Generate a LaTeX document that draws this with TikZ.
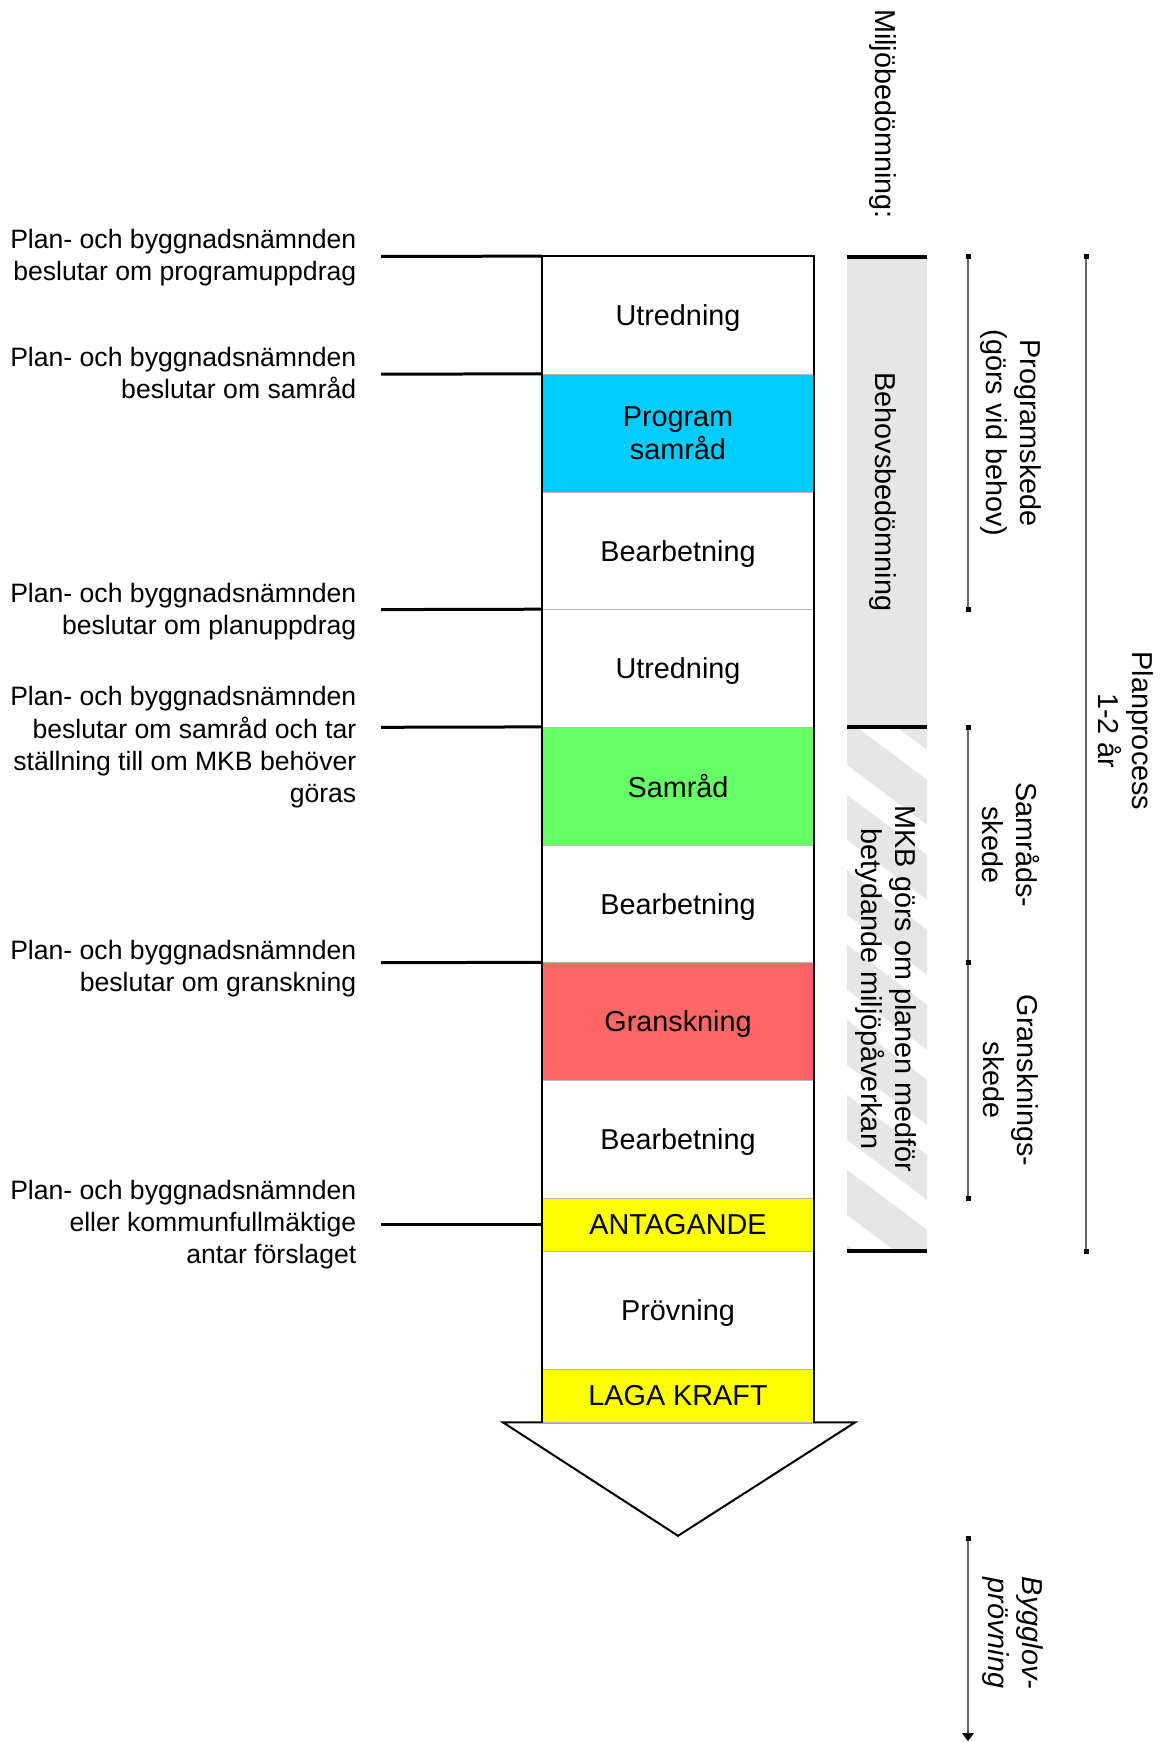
\documentclass[tikz,border=0pt]{standalone}
\usepackage{fontspec}
\setmainfont{Liberation Sans}
\usetikzlibrary{arrows.meta}

\definecolor{progblue}{RGB}{0,204,255}
\definecolor{samgreen}{RGB}{102,255,102}
\definecolor{granred}{RGB}{255,102,102}
\definecolor{lawyellow}{RGB}{255,255,0}
\definecolor{bandgrey}{RGB}{230,230,230}

\newcommand\stagefont{\fontsize{28.8}{33.5}\selectfont}
\newcommand\decfont{\fontsize{26.6}{32.2}\selectfont}

\tikzset{
  stage/.style={draw=gray!55, line width=0.8pt, minimum width=272pt,
    minimum height=117.7pt, inner sep=0pt, align=center, text depth=0pt},
  shortstage/.style={stage, minimum height=53.3pt},
  decision/.style={align=right, anchor=east, inner sep=0pt, text depth=0pt, font=\decfont},
  decline/.style={line width=3pt},
  phase/.style={draw=gray!80!black, line width=1.2pt},
  phasetext/.style={rotate=-90, align=center, inner sep=0pt}
}

\begin{document}
\begin{tikzpicture}[x=1pt,y=-1pt,font=\stagefont]
\useasboundingbox (0,0) rectangle (1166,1742);

% arrow under the column
\draw[line width=2pt, fill=white] (503,1422.4) -- (855,1422.4) -- (678,1535.8) -- cycle;

\node[stage] (r1) at (678,315.35) {Utredning};
\node[stage, fill=progblue] (r2) at (678,433.05) {Program\\samråd};
\node[stage] (r3) at (678,550.75) {Bearbetning};
\node[stage] (r4) at (678,668.45) {Utredning};
\node[stage, fill=samgreen] (r5) at (678,786.15) {Samråd};
\node[stage] (r6) at (678,903.85) {Bearbetning};
\node[stage, fill=granred] (r7) at (678,1021.55) {Granskning};
\node[stage] (r8) at (678,1139.25) {Bearbetning};
\node[shortstage, fill=lawyellow] (r9) at (678,1224.75) {ANTAGANDE};
\node[stage] (r10) at (678,1310.25) {Prövning};
\node[shortstage, fill=lawyellow] (r11) at (678,1395.75) {LAGA KRAFT};

\draw[line width=2pt] (r11.south west) -- (r1.north west) -- (r1.north east) -- (r11.south east);

% decisions
\node[decision] (d1) at (356.5,254.9) {Plan- och byggnadsnämnden\\beslutar om programuppdrag};
\node[decision] (d2) at (356.5,372.6) {Plan- och byggnadsnämnden\\beslutar om samråd};
\node[decision] (d3) at (356.5,609.1) {Plan- och byggnadsnämnden\\beslutar om planuppdrag};
\node[decision] (d4) at (356.5,744.6) {Plan- och byggnadsnämnden\\beslutar om samråd och tar\\ställning till om MKB behöver\\göras};
\node[decision] (d5) at (356.5,965.6) {Plan- och byggnadsnämnden\\beslutar om granskning};
\node[decision] (d6) at (356.5,1221.6) {Plan- och byggnadsnämnden\\eller kommunfullmäktige\\antar förslaget};

\coordinate (e1) at (381,256.5);
\coordinate (e2) at (381,374.2);
\coordinate (e3) at (381,609.6);
\coordinate (e4) at (381,727.3);
\coordinate (e5) at (381,962.7);
\coordinate (e6) at (381,1224.75);
\draw[decline] (e1) -- (r1.north west);
\draw[decline] (e2) -- (r2.north west);
\draw[decline] (e3) -- (r4.north west);
\draw[decline] (e4) -- (r5.north west);
\draw[decline] (e5) -- (r7.north west);
\draw[decline] (e6) -- (r9.west);

% miljobedomning band
\fill[bandgrey] (847,256.5) rectangle (927,727.3);
\begin{scope}
\clip (847,727.3) rectangle (927,1251.4);
\foreach \s in {-2,...,8}
  \draw[bandgrey, line width=36pt] (827,{727.3+\s*75}) -- (947,{817.3+\s*75});
\end{scope}
\draw[line width=4pt] (847,256.5) -- (927,256.5);
\draw[line width=4pt] (847,727.3) -- (927,727.3);
\draw[line width=4pt] (847,1251.4) -- (927,1251.4);

\node[rotate=-90] (miljo) at (883,114) {Miljöbedömning:};
\node[rotate=-90] (behov) at (883,492) {Behovsbedömning};
\node[phasetext] (mkb) at (886,989) {MKB görs om planen medför\\betydande miljöpåverkan};

% phases
\coordinate (p0) at (968,256.5);
\coordinate (p1) at (968,609.6);
\coordinate (p2) at (968,727.3);
\coordinate (p3) at (968,962.7);
\coordinate (p4) at (968,1198.1);
\coordinate (q0) at (1086,256.5);
\coordinate (q1) at (1086,1251.4);
\coordinate (b0) at (968,1538);
\coordinate (b1) at (968,1741);
\draw[phase] (p0) -- (p1);
\draw[phase] (p2) -- (p4);
\draw[phase] (q0) -- (q1);
\draw[phase, -{Triangle[width=12pt,length=8pt,color=black]}] (b0) -- (b1);
\foreach \p in {p0,p1,p2,p3,p4,q0,q1,b0}
  \fill ([shift={(-2.5,-2.5)}]\p) rectangle ([shift={(2.5,2.5)}]\p);

\node[phasetext] (progskede) at (1011,433) {Programskede\\(görs vid behov)};
\node[phasetext] (samskede) at (1011,845) {Samråds-\\skede};
\node[phasetext] (granskede) at (1011,1080.4) {Gransknings-\\skede};
\node[phasetext] (planproc) at (1126,731) {Planprocess\\1-2 år};
\node[phasetext, font=\stagefont\itshape] (bygglov) at (1013,1633) {Bygglov-\\prövning};

\end{tikzpicture}
\end{document}
